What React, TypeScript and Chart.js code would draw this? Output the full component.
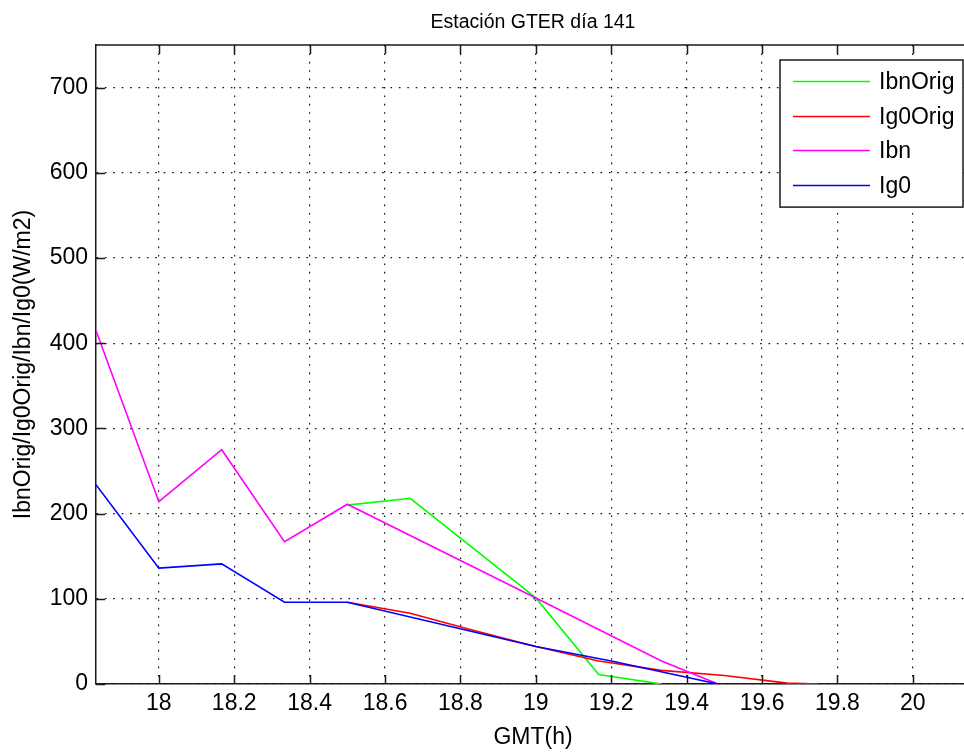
import React, { useEffect, useRef } from 'react';
import { Chart, registerables } from 'chart.js';

Chart.register(...registerables);

// ---- text ----
const TITLE = 'Estación GTER día 141';
const X_LABEL = 'GMT(h)';
const Y_LABEL = 'IbnOrig/Ig0Orig/Ibn/Ig0(W/m2)';
const SERIES_NAMES = ['IbnOrig', 'Ig0Orig', 'Ibn', 'Ig0'];
const SERIES_COLORS = ['#00ff00', '#ff0000', '#ff00ff', '#0000ff'];

// ---- data (hours GMT, W/m2) ----
const IBN_ORIG_X = [18.5, 18.6667, 19.0, 19.1667, 19.3333];
const IBN_ORIG_Y = [210, 218, 101, 11, 0];

const IG0_ORIG_X = [18.5, 18.6667, 18.8333, 19.0, 19.1667, 19.3333, 19.5, 19.6667, 19.75];
const IG0_ORIG_Y = [96, 83, 63, 44, 27, 16, 10, 1, 0];

const IBN_X = [17.8333, 18.0, 18.1667, 18.3333, 18.5, 19.0, 19.3333, 19.4833];
const IBN_Y = [415, 214, 275, 167, 211, 101, 27, 0];

const IG0_X = [17.8333, 18.0, 18.1667, 18.3333, 18.5, 19.0, 19.2, 19.4833];
const IG0_Y = [234, 136, 141, 96, 96, 44, 27, 0];

// ---- axes ----
const X_TICKS = [18, 18.2, 18.4, 18.6, 18.8, 19, 19.2, 19.4, 19.6, 19.8, 20];
const X_TICK_LABELS = ['18', '18.2', '18.4', '18.6', '18.8', '19', '19.2', '19.4', '19.6', '19.8', '20'];
const Y_TICKS = [0, 100, 200, 300, 400, 500, 600, 700];
const Y_TICK_LABELS = ['0', '100', '200', '300', '400', '500', '600', '700'];
const X_MIN = 17.8333;
const X_MAX = 20.1516;
const Y_MIN = 0;
const Y_MAX = 750;

const FONT = "'Liberation Sans', Arial, Helvetica, sans-serif";

const toPoints = (xs: number[], ys: number[]) => xs.map((x, i) => ({ x, y: ys[i] }));

const framePlugin = {
  id: 'matlabFrame',
  afterDraw(chart: any) {
    const { ctx, chartArea: a, scales } = chart;
    const xs = scales.x;
    const ys = scales.y;
    const TL = 9;
    ctx.save();
    // frame + inward ticks
    ctx.strokeStyle = '#1a1a1a';
    ctx.lineWidth = 1.5;
    ctx.beginPath();
    ctx.moveTo(a.left, a.top);
    ctx.lineTo(a.right, a.top);
    xs.ticks.forEach((_t: any, i: number) => {
      const px = Math.round(xs.getPixelForTick(i)) + 0.5;
      ctx.moveTo(px, a.bottom);
      ctx.lineTo(px, a.bottom - TL);
      ctx.moveTo(px, a.top);
      ctx.lineTo(px, a.top + TL);
    });
    ys.ticks.forEach((_t: any, i: number) => {
      const py = Math.round(ys.getPixelForTick(i)) + 0.5;
      ctx.moveTo(a.left, py);
      ctx.lineTo(a.left + TL, py);
    });
    ctx.stroke();

    // title centred over the axes
    ctx.fillStyle = '#000';
    ctx.font = `19.5px ${FONT}`;
    ctx.textAlign = 'center';
    ctx.textBaseline = 'alphabetic';
    ctx.fillText(TITLE, (a.left + a.right) / 2, a.top - 17);

    // legend box (inside, north-east)
    const right = a.right - 7;
    const left = right - 183;
    const top = a.top + 15;
    const rowH = 34.7;
    const bottom = top + 21 + rowH * (chart.data.datasets.length - 1) + 22;
    ctx.fillStyle = '#ffffff';
    ctx.fillRect(left, top, right - left, bottom - top);
    ctx.strokeStyle = '#1a1a1a';
    ctx.lineWidth = 1.5;
    ctx.strokeRect(left, top, right - left, bottom - top);
    ctx.font = `23px ${FONT}`;
    ctx.textAlign = 'left';
    ctx.textBaseline = 'middle';
    chart.data.datasets.forEach((ds: any, i: number) => {
      const y = Math.round(top + 21 + rowH * i) + 0.5;
      ctx.strokeStyle = ds.borderColor;
      ctx.lineWidth = 1.5;
      ctx.beginPath();
      ctx.moveTo(left + 13, y);
      ctx.lineTo(left + 90, y);
      ctx.stroke();
      ctx.fillStyle = '#000';
      ctx.fillText(ds.label, left + 99, y + 1);
    });
    ctx.restore();
  },
};

export default function App() {
  const ref = useRef<HTMLCanvasElement | null>(null);

  useEffect(() => {
    if (!ref.current) return;
    const seriesX = [IBN_ORIG_X, IG0_ORIG_X, IBN_X, IG0_X];
    const seriesY = [IBN_ORIG_Y, IG0_ORIG_Y, IBN_Y, IG0_Y];
    const datasets = SERIES_NAMES.map((name, i) => ({
      label: name,
      data: toPoints(seriesX[i], seriesY[i]),
      borderColor: SERIES_COLORS[i],
      backgroundColor: SERIES_COLORS[i],
      borderWidth: 1.6,
      pointRadius: 0,
      pointHoverRadius: 0,
      tension: 0,
      fill: false,
      order: SERIES_NAMES.length - i,
    }));

    const chart = new Chart(ref.current, {
      type: 'line',
      data: { datasets },
      plugins: [framePlugin],
      options: {
        animation: false,
        responsive: false,
        events: [],
        layout: { autoPadding: false, padding: { top: 45, left: 0, right: 0, bottom: 0 } },
        plugins: {
          legend: { display: false },
          title: { display: false },
          tooltip: { enabled: false },
        },
        scales: {
          x: {
            type: 'linear',
            min: X_MIN,
            max: X_MAX,
            afterBuildTicks: (s: any) => {
              s.ticks = X_TICKS.map((v) => ({ value: v }));
            },
            afterFit: (s: any) => {
              s.height = 69;
            },
            ticks: {
              callback: (_v: any, i: number) => X_TICK_LABELS[i],
              color: '#000',
              padding: 6,
              maxRotation: 0,
              autoSkip: false,
              font: { family: FONT, size: 23 },
            },
            grid: {
              drawTicks: false,
              color: '#111111',
              lineWidth: 1.2,
            },
            border: { display: true, color: '#1a1a1a', width: 1.5, dash: [1.6, 6.8] },
            title: {
              display: true,
              text: X_LABEL,
              color: '#000',
              padding: 2,
              font: { family: FONT, size: 23 },
            },
          },
          y: {
            type: 'linear',
            min: Y_MIN,
            max: Y_MAX,
            afterBuildTicks: (s: any) => {
              s.ticks = Y_TICKS.map((v) => ({ value: v }));
            },
            afterFit: (s: any) => {
              s.width = 96;
            },
            ticks: {
              callback: (_v: any, i: number) => Y_TICK_LABELS[i],
              color: '#000',
              padding: 8,
              autoSkip: false,
              font: { family: FONT, size: 23 },
            },
            grid: {
              drawTicks: false,
              color: '#111111',
              lineWidth: 1.2,
            },
            border: { display: true, color: '#1a1a1a', width: 1.5, dash: [1.6, 6.8] },
            title: {
              display: true,
              text: Y_LABEL,
              color: '#000',
              padding: 10,
              font: { family: FONT, size: 23 },
            },
          },
        },
      },
    } as any);

    return () => chart.destroy();
  }, []);

  return (
    <div
      style={{
        position: 'fixed',
        left: 0,
        top: 0,
        width: 964,
        height: 753,
        overflow: 'hidden',
        background: '#fff',
      }}
    >
      <canvas ref={ref} width={970} height={753} style={{ display: 'block' }} />
    </div>
  );
}
